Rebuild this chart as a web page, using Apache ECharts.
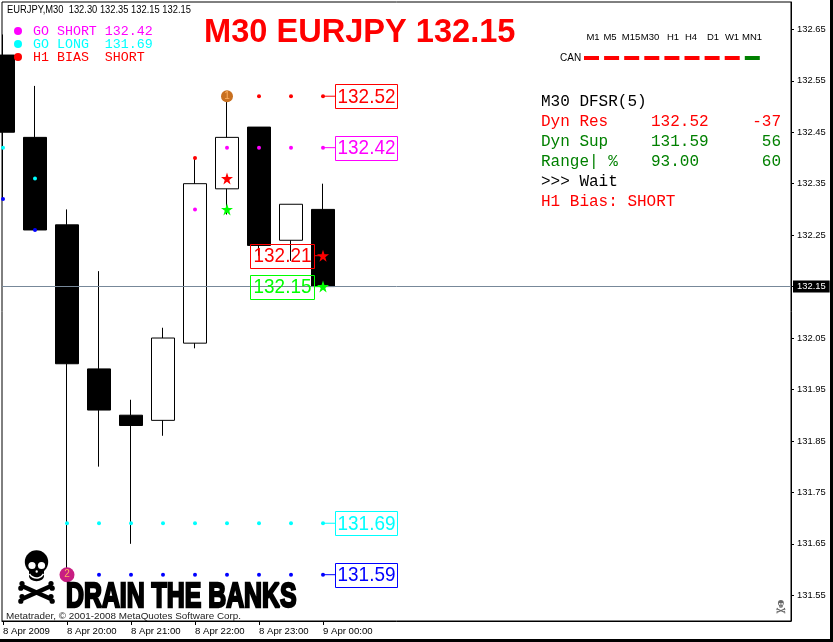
<!DOCTYPE html>
<html><head><meta charset="utf-8">
<style>html,body{margin:0;padding:0;background:#fff}#c{width:833px;height:642px}</style>
<script src="https://cdn.jsdelivr.net/npm/echarts@6/dist/echarts.min.js"></script>
</head><body><div id="c"></div>
<script>
// ---- data
const barIndex = [0,1,2,3,4,5,6,7,8,9,10];
const opens  = [132.60,132.44,132.27,131.99,131.90,131.89,132.04,132.34,132.46,132.24,132.30];
const closes = [132.45,132.26,132.00,131.91,131.88,132.05,132.35,132.44,132.23,132.31,132.15];
const lows   = [132.32,132.26,131.59,131.80,131.65,131.86,132.03,132.29,132.21,132.20,132.15];
const highs  = [132.64,132.54,132.30,132.18,131.93,132.07,132.40,132.52,132.46,132.31,132.35];
const dynRes   = [null,null,null,null,null,null,132.40,132.52,132.52,132.52,132.52];
const goShort  = [null,null,null,null,null,null,132.30,132.42,132.42,132.42,132.42];
const goLong   = [132.42,132.36,131.69,131.69,131.69,131.69,131.69,131.69,131.69,131.69,131.69];
const dynSup   = [132.32,132.26,131.59,131.59,131.59,131.59,131.59,131.59,131.59,131.59,131.59];
const redStars   = [[7,132.36],[10,132.21]];
const greenStars = [[7,132.30],[10,132.15]];
const numberedMarks = [[7,132.52,'1'],[2,131.59,'2']];
const calloutIdx = [10,10,10,10,10,10];
const calloutVal = [132.52,132.42,131.69,131.59,132.21,132.15];
const calloutCol = ['#ff0000','#ff00ff','#00ffff','#0000ff','#ff0000','#00ff00'];
const calloutSide = [1,1,1,1,-1,-1];
const yTicks = [131.55,131.65,131.75,131.85,131.95,132.05,132.15,132.25,132.35,132.45,132.55,132.65];
const xTickIdx = [0,2,4,6,8,10];
const xTickLabels = ['8 Apr 2009','8 Apr 20:00','8 Apr 21:00','8 Apr 22:00','8 Apr 23:00','9 Apr 00:00'];
const lastPrice = 132.15;
const tfLabels = ['M1','M5','M15','M30','H1','H4','D1','W1','MN1'];
const tfStates = ['short','short','short','short','short','short','short','short','long'];

// ---- layout
const PX_PER_BAR = 32, FIRST_X = 3, G_L = 2, G_T = 2, G_W = 789, G_H = 619, PX_PER_UNIT = 514.5;
const tfCx = [593,610,631,650,673,691,713,732,752];
const MONO = '"Liberation Mono","Courier New",monospace';
const SANS = '"Liberation Sans",Arial,sans-serif';
const txt = (text,x,y,font,fill,extra,scaleX) => ({type:'text',z:50,silent:true,x,y,scaleX:scaleX||1,
  style:Object.assign({text,x:0,y:0,font,fill,textVerticalAlign:'middle'},extra||{})});

function skull(x,y,s,col){
  const bone=(x1,y1,x2,y2)=>[
    {type:'line',shape:{x1,y1,x2,y2},style:{stroke:col,lineWidth:4.5}},
    {type:'circle',shape:{cx:x1,cy:y1-2.4,r:2.6},style:{fill:col}},
    {type:'circle',shape:{cx:x1+(x1<x2?-1.2:1.2),cy:y1+2.2,r:2.6},style:{fill:col}},
    {type:'circle',shape:{cx:x2,cy:y2-2.4,r:2.6},style:{fill:col}},
    {type:'circle',shape:{cx:x2+(x2<x1?-1.2:1.2),cy:y2+2.2,r:2.6},style:{fill:col}}];
  return {type:'group',z:50,silent:true,x,y,scaleX:s,scaleY:s,children:[
    {type:'circle',shape:{cx:17.5,cy:12,r:11.7},style:{fill:col}},
    {type:'rect',shape:{x:10,y:16,width:15,height:10},style:{fill:col}},
    {type:'ellipse',shape:{cx:17.5,cy:26,rx:7.5,ry:5.2},style:{fill:col}},
    {type:'circle',shape:{cx:13,cy:15.5,r:3.6},style:{fill:'#fff'}},
    {type:'circle',shape:{cx:22.5,cy:15.5,r:3.6},style:{fill:'#fff'}},
    {type:'circle',shape:{cx:17.7,cy:21.5,r:1.2},style:{fill:'#fff'}},
    {type:'arc',shape:{cx:17.5,cy:20,r:8,startAngle:0.5,endAngle:Math.PI-0.5,clockwise:true},style:{stroke:'#fff',fill:'none',lineWidth:1.5}},
    ...bone(3,36,32,49),
    ...bone(3,49,32,36)
  ]};
}

const g = [];
g.push({type:'rect',z:60,shape:{x:830,y:0,width:3,height:642},style:{fill:'#000'}});
g.push({type:'rect',z:60,shape:{x:0,y:639,width:833,height:3},style:{fill:'#000'}});
g.push(txt('EURJPY,M30  132.30 132.35 132.15 132.15',7,10.5,'10.4px '+SANS,'#000',null,0.9));
g.push(txt('M30 EURJPY 132.15',204,33,'bold 32.6px '+SANS,'#ff0000'));
[['GO SHORT 132.42','#ff00ff',31],['GO LONG  131.69','#00ffff',44],['H1 BIAS  SHORT','#ff0000',57]].forEach(([t,c,y])=>{
  g.push({type:'circle',z:50,shape:{cx:18,cy:y,r:4},style:{fill:c}});
  g.push(txt(t,33,y,'13.3px '+MONO,c));
});
tfLabels.forEach((t,i)=>g.push(txt(t,tfCx[i],37,'9.5px '+SANS,'#000',{textAlign:'center'})));
g.push(txt('CAN',560,58.5,'10px '+SANS,'#000'));
tfStates.forEach((s,i)=>g.push({type:'rect',z:50,shape:{x:584+i*20.1,y:56,width:15,height:4},
  style:{fill:s==='long'?'#008000':'#ff0000'}}));
const panel=[
 ['M30 DFSR(5)','','', '#000000',102],
 ['Dyn Res','132.52','-37','#ff0000',122],
 ['Dyn Sup','131.59','56','#008000',142],
 ['Range| %','93.00','60','#008000',162],
 ['>>> Wait','','','#000000',182],
 ['H1 Bias: SHORT','','','#ff0000',202]];
panel.forEach(([a,b,c,col,y])=>{
  g.push(txt(a,541,y,'16px '+MONO,col));
  if(b) g.push(txt(b,651,y,'16px '+MONO,col));
  if(c) g.push(txt(c,781,y,'16px '+MONO,col,{textAlign:'right'}));
});
g.push(skull(19,550,1,'#000'));
g.push({type:'text',z:50,silent:true,x:66,y:597,scaleX:0.71,scaleY:1,
  style:{text:'DRAIN THE BANKS',x:0,y:0,font:'bold 35px '+SANS,fill:'#000',stroke:'#000',lineWidth:2.4,textVerticalAlign:'middle'}});
g.push(txt('Metatrader, © 2001-2008 MetaQuotes Software Corp.',6,616.5,'9.9px '+SANS,'#222'));
g.push(skull(776.5,600,0.25,'#666'));

const dots=(name,data,color)=>({name,type:'scatter',z:5,symbolSize:4,itemStyle:{color,opacity:1},
  data:data.map((v,i)=>[barIndex[i],v]).filter(d=>d[1]!==null)});
const STAR='path://M50 0 L62 36 L100 36 L69 59 L80 95 L50 73 L20 95 L31 59 L0 36 L38 36 Z';

const chart = echarts.init(document.getElementById('c'),null,{renderer:'canvas'});
chart.setOption({
  animation:false, backgroundColor:'#fff',
  grid:{left:G_L,top:G_T,width:G_W,height:G_H,show:true,borderColor:'#000',borderWidth:1,backgroundColor:'#fff'},
  xAxis:{type:'value',min:(G_L-FIRST_X)/PX_PER_BAR,max:(G_L+G_W-FIRST_X)/PX_PER_BAR,
    splitLine:{show:false},axisLine:{show:true,onZero:false,lineStyle:{color:'#000'}},
    axisTick:{show:true,length:4,lineStyle:{color:'#000'},customValues:xTickIdx},
    axisLabel:{customValues:xTickIdx,margin:5,color:'#000',fontSize:9.6,fontFamily:SANS,align:'left',showMinLabel:true,showMaxLabel:true,
      formatter:v=>xTickLabels[xTickIdx.indexOf(Math.round(v))]||''}},
  yAxis:{type:'value',position:'right',min:131.5,max:131.5+G_H/PX_PER_UNIT,scale:true,
    splitLine:{show:false},axisLine:{show:true,onZero:false,lineStyle:{color:'#000'}},
    axisTick:{show:true,length:3,lineStyle:{color:'#000'},customValues:yTicks},
    axisLabel:{customValues:yTicks,margin:6,color:'#000',fontSize:9.4,fontFamily:SANS,showMinLabel:true,showMaxLabel:true,
      formatter:v=>v.toFixed(2)}},
  graphic:g,
  series:[
    {name:'price',type:'scatter',z:1,symbolSize:0,data:[],
      markLine:{silent:true,symbol:'none',animation:false,
        lineStyle:{color:'#778899',width:1,type:'solid'},
        label:{position:'end',distance:2,formatter:v=>v.value.toFixed(2),color:'#fff',backgroundColor:'#000',
          fontSize:9.4,fontFamily:SANS,padding:[2,4,1,4]},
        data:[{yAxis:lastPrice}]}},
    {name:'EURJPY',type:'candlestick',z:3,barWidth:24,
      itemStyle:{color:'#fff',color0:'#000',borderColor:'#000',borderColor0:'#000',borderWidth:1},
      encode:{x:0,y:[1,2,3,4]},
      data:barIndex.map((x,i)=>[x,opens[i],closes[i],lows[i],highs[i]])},
    dots('Dyn Res',dynRes,'#ff0000'),
    dots('Go Short',goShort,'#ff00ff'),
    dots('Go Long',goLong,'#00ffff'),
    dots('Dyn Sup',dynSup,'#0000ff'),
    {name:'redStars',type:'scatter',z:6,symbol:STAR,symbolSize:12,itemStyle:{color:'#ff0000',opacity:1},data:redStars},
    {name:'greenStars',type:'scatter',z:6,symbol:STAR,symbolSize:12,itemStyle:{color:'#00ff00',opacity:1},data:greenStars},
    {name:'marks',type:'scatter',z:7,symbolSize:d=>d[2]==='1'?12:15,
      itemStyle:{color:p=>p.data[2]==='1'?'#c87020':'#c81e82',opacity:1},
      label:{show:true,position:'inside',formatter:p=>p.data[2],fontSize:10,fontFamily:SANS,color:'#ffb060'},
      data:numberedMarks},
    {name:'callouts',type:'custom',z:8,clip:false,
      encode:{x:0,y:1},
      data:calloutIdx.map((x,i)=>[x,calloutVal[i]]),
      renderItem:(params,api)=>{
        const i=params.dataIndex, p=api.coord([api.value(0),api.value(1)]);
        const col=calloutCol[i], right=calloutSide[i]>0, W=right?62:64, H=24;
        const x0=right?p[0]+12:p[0]-9-W, xj=right?x0:x0+W;
        return {type:'group',children:[
          {type:'line',shape:{x1:p[0],y1:p[1],x2:xj,y2:p[1]},style:{stroke:col,lineWidth:1}},
          {type:'rect',shape:{x:x0+.5,y:Math.round(p[1]-H/2)+.5,width:W,height:H},style:{fill:'transparent',stroke:col,lineWidth:1}},
          {type:'text',x:x0+W/2+.5,y:p[1]+.5,scaleX:0.9,
           style:{text:calloutVal[i].toFixed(2),x:0,y:0,textAlign:'center',textVerticalAlign:'middle',font:'21px '+SANS,fill:col}}
        ]};
      }}
  ]
});
</script></body></html>
